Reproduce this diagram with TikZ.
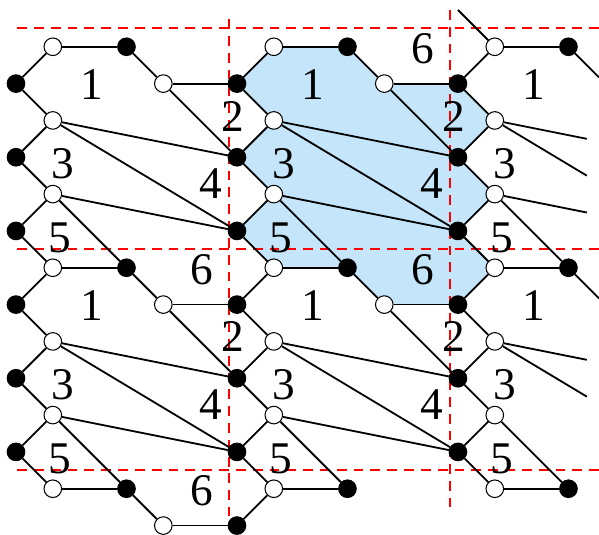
\documentclass[tikz,border=0pt]{standalone}
\usepackage{fontspec}
\setmainfont{Liberation Serif}
\definecolor{cellblue}{RGB}{197,230,250}
\begin{document}
\begin{tikzpicture}[x=0.5cm,y=-0.5cm]
    \tikzset{%
        wn/.style={draw, circle, fill=white, line width=0.4pt, inner sep=0pt, minimum size=6.8pt},
        bn/.style={wn, fill=black},
        e/.style={line width=0.7pt},
        cut/.style={red, line width=0.7pt, dash pattern=on 3.8pt off 2.7pt},
        fl/.style={font=\fontsize{17.5}{18}\selectfont, inner sep=0pt}%
        }
    \useasboundingbox (-0.434,-0.27) rectangle (15.83,14.23);
    \fill[cellblue] (7,1)--(9,1)--(10,2)--(12,2)--(13,3)--(12,4)--(13,5)--(12,6)--(13,7)--(12,8)--(10,8)--(9,7)--(7,7)--(6,6)--(7,5)--(6,4)--(7,3)--(6,2)--cycle;
    \draw[cut] (0.03,0.5)--(15.83,0.5) (0.03,6.5)--(15.83,6.5) (0.03,12.5)--(15.83,12.5);
    \draw[cut] (5.78,0.25)--(5.78,13.75) (11.78,0)--(11.78,13.5);
    \foreach \i in {0,1,2}{
        \foreach \j in {0,1}{
            \node[wn](wa\i\j)at(6*\i+1,6*\j+1){};
            \node[bn](ba\i\j)at(6*\i+3,6*\j+1){};
            \node[bn](bb\i\j)at(6*\i,6*\j+2){};
            \node[wn](wc\i\j)at(6*\i+1,6*\j+3){};
            \node[bn](bc\i\j)at(6*\i,6*\j+4){};
            \node[wn](wd\i\j)at(6*\i+1,6*\j+5){};
            \node[bn](bd\i\j)at(6*\i,6*\j+6){};
            \node[fl](la\i\j)at(6*\i+2.05,6*\j+2.03){1};
            \node[fl](lc\i\j)at(6*\i+1.28,6*\j+4.18){3};
            \node[fl](le\i\j)at(6*\i+1.2,6*\j+6.19){5};
        }
    }
    \foreach \i in {0,1}{
        \foreach \j in {0,1}{
            \node[wn](wb\i\j)at(6*\i+4,6*\j+2){};
            \node[fl](lb\i\j)at(6*\i+5.9,6*\j+2.88){2};
            \node[fl](ld\i\j)at(6*\i+5.3,6*\j+4.72){4};
        }
    }
    \foreach \i/\j in {0/0,1/0,0/1,1/-1}
        \node[fl](lf\i\j)at(6*\i+5.05,6*\j+7.05){6};
    \node[wn](wa02)at(1,13){};
    \node[bn](ba02)at(3,13){};
    \node[wn](wb02)at(4,14){};
    \node[wn](wa12)at(7,13){};
    \node[bn](ba12)at(9,13){};
    \node[bn](bb12)at(6,14){};
    \node[wn](wa22)at(13,13){};
    \node[bn](ba22)at(15,13){};
    \coordinate(s1)at(12,0);
    \coordinate(s2)at(15.83,1.83);
    \coordinate(s3)at(15.5,3.5);
    \coordinate(s4)at(15.5,4.5);
    \coordinate(s5)at(15.5,5.5);
    \coordinate(s6)at(15.83,7.83);
    \coordinate(s7)at(15.5,9.5);
    \coordinate(s8)at(15.5,10.5);
    \foreach \i in {0,1,2}{
        \foreach \j/\k in {0/1,1/2}{
            \path
            (wa\i\j)edge[e](ba\i\j)
            (wa\i\j)edge[e](bb\i\j)
            (bb\i\j)edge[e](wc\i\j)
            (wc\i\j)edge[e](bc\i\j)
            (bc\i\j)edge[e](wd\i\j)
            (wd\i\j)edge[e](bd\i\j)
            (wd\i\j)edge[e](ba\i\k)
            (bd\i\j)edge[e](wa\i\k);
        }
    }
    \foreach \i/\m in {0/1,1/2}{
        \foreach \j in {0,1}{
            \path
            (ba\i\j)edge[e](wb\i\j)
            (wb\i\j)edge[e](bb\m\j)
            (wb\i\j)edge[e](bc\m\j)
            (wc\i\j)edge[e](bc\m\j)
            (wc\i\j)edge[e](bd\m\j)
            (wd\i\j)edge[e](bd\m\j);
        }
    }
    \path
    (wa02)edge[e](ba02)
    (ba02)edge[e](wb02)
    (wb02)edge[e](bb12)
    (wa12)edge[e](ba12)
    (wa12)edge[e](bb12)
    (wa22)edge[e](ba22)
    (wa20)edge[e](s1)
    (ba20)edge[e](s2)
    (wc20)edge[e](s3)
    (wc20)edge[e](s4)
    (wd20)edge[e](s5)
    (ba21)edge[e](s6)
    (wc21)edge[e](s7)
    (wc21)edge[e](s8);
\end{tikzpicture}
\end{document}
